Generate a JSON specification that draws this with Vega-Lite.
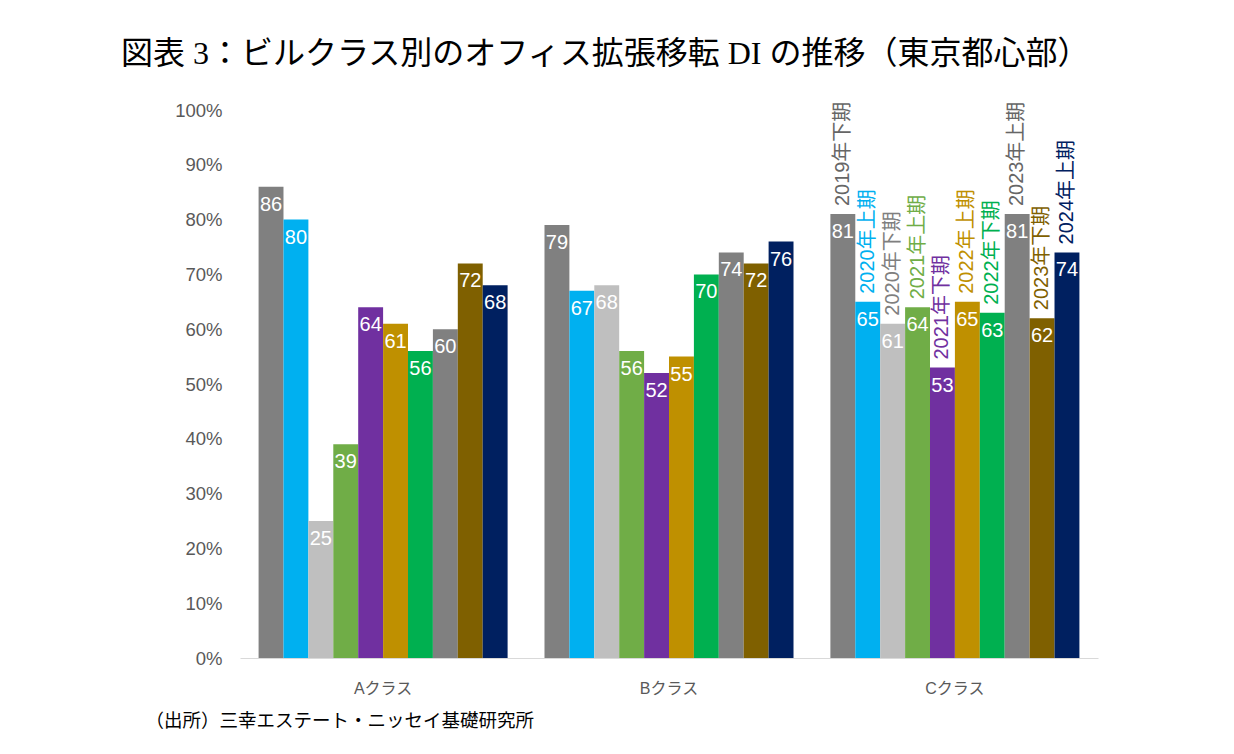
{
  "$schema": "https://vega.github.io/schema/vega-lite/v6.json",
  "width": 858,
  "height": 548,
  "autosize": "none",
  "padding": {"left": 240, "top": 110, "right": 136, "bottom": 96},
  "background": "white",
  "title": {
    "text": "図表 3：ビルクラス別のオフィス拡張移転 DI の推移（東京都心部）",
    "anchor": "start",
    "dx": -24,
    "offset": -2,
    "baseline": "bottom",
    "font": "Liberation Serif, Noto Sans CJK JP",
    "fontSize": 32,
    "fontWeight": "normal",
    "color": "#000000"
  },
  "data": {
    "values": [
      {"cls": "Aクラス", "period": "2019年下期", "value": 86},
      {"cls": "Aクラス", "period": "2020年上期", "value": 80},
      {"cls": "Aクラス", "period": "2020年下期", "value": 25},
      {"cls": "Aクラス", "period": "2021年上期", "value": 39},
      {"cls": "Aクラス", "period": "2021年下期", "value": 64},
      {"cls": "Aクラス", "period": "2022年上期", "value": 61},
      {"cls": "Aクラス", "period": "2022年下期", "value": 56},
      {"cls": "Aクラス", "period": "2023年上期", "value": 60},
      {"cls": "Aクラス", "period": "2023年下期", "value": 72},
      {"cls": "Aクラス", "period": "2024年上期", "value": 68},
      {"cls": "Bクラス", "period": "2019年下期", "value": 79},
      {"cls": "Bクラス", "period": "2020年上期", "value": 67},
      {"cls": "Bクラス", "period": "2020年下期", "value": 68},
      {"cls": "Bクラス", "period": "2021年上期", "value": 56},
      {"cls": "Bクラス", "period": "2021年下期", "value": 52},
      {"cls": "Bクラス", "period": "2022年上期", "value": 55},
      {"cls": "Bクラス", "period": "2022年下期", "value": 70},
      {"cls": "Bクラス", "period": "2023年上期", "value": 74},
      {"cls": "Bクラス", "period": "2023年下期", "value": 72},
      {"cls": "Bクラス", "period": "2024年上期", "value": 76},
      {"cls": "Cクラス", "period": "2019年下期", "value": 81},
      {"cls": "Cクラス", "period": "2020年上期", "value": 65},
      {"cls": "Cクラス", "period": "2020年下期", "value": 61},
      {"cls": "Cクラス", "period": "2021年上期", "value": 64},
      {"cls": "Cクラス", "period": "2021年下期", "value": 53},
      {"cls": "Cクラス", "period": "2022年上期", "value": 65},
      {"cls": "Cクラス", "period": "2022年下期", "value": 63},
      {"cls": "Cクラス", "period": "2023年上期", "value": 81},
      {"cls": "Cクラス", "period": "2023年下期", "value": 62},
      {"cls": "Cクラス", "period": "2024年上期", "value": 74}
    ]
  },
  "encoding": {
    "x": {
      "field": "cls",
      "type": "nominal",
      "scale": {"paddingInner": 0.129, "paddingOuter": 0.065},
      "axis": {
        "title": "（出所）三幸エステート・ニッセイ基礎研究所",
        "titleX": -95,
        "titleY": 62,
        "titleAlign": "left",
        "titleBaseline": "middle",
        "titleFont": "Noto Sans CJK JP",
        "titleFontSize": 18.5,
        "titleFontWeight": "normal",
        "titleColor": "#000000",
        "labelAngle": 0,
        "labelFont": "Liberation Sans, Noto Sans CJK JP",
        "labelFontSize": 16,
        "labelColor": "#595959",
        "labelPadding": 22,
        "ticks": false,
        "domainColor": "#d9d9d9",
        "domainWidth": 1
      }
    },
    "xOffset": {
      "field": "period",
      "type": "nominal",
      "sort": ["2019年下期", "2020年上期", "2020年下期", "2021年上期", "2021年下期", "2022年上期", "2022年下期", "2023年上期", "2023年下期", "2024年上期"],
      "scale": {"paddingInner": 0, "paddingOuter": 0}
    },
    "y": {
      "field": "value",
      "type": "quantitative",
      "scale": {"domain": [0, 100]},
      "axis": {
        "title": null,
        "values": [0, 10, 20, 30, 40, 50, 60, 70, 80, 90, 100],
        "labelExpr": "datum.value + '%'",
        "labelFont": "Liberation Sans",
        "labelFontSize": 18.5,
        "labelColor": "#595959",
        "labelPadding": 18,
        "ticks": false,
        "domain": false,
        "grid": false
      }
    }
  },
  "layer": [
    {
      "mark": {"type": "bar"},
      "encoding": {
        "color": {
          "field": "period",
          "type": "nominal",
          "scale": {
            "domain": ["2019年下期", "2020年上期", "2020年下期", "2021年上期", "2021年下期", "2022年上期", "2022年下期", "2023年上期", "2023年下期", "2024年上期"],
            "range": ["#808080", "#00b0f0", "#bfbfbf", "#70ad47", "#7030a0", "#bf9000", "#00b050", "#808080", "#7f6000", "#002060"]
          },
          "legend": null
        }
      }
    },
    {
      "mark": {
        "type": "text",
        "baseline": "top",
        "dy": 8,
        "color": "white",
        "font": "Liberation Sans",
        "fontSize": 20
      },
      "encoding": {
        "text": {"field": "value", "type": "quantitative"}
      }
    },
    {
      "transform": [{"filter": "datum.cls === 'Cクラス'"}],
      "mark": {
        "type": "text",
        "angle": 270,
        "align": "left",
        "baseline": "middle",
        "dx": 8,
        "font": "Liberation Sans, Noto Sans CJK JP",
        "fontSize": 20
      },
      "encoding": {
        "text": {"field": "period", "type": "nominal"},
        "color": {
          "field": "period",
          "type": "nominal",
          "scale": {
            "domain": ["2019年下期", "2020年上期", "2020年下期", "2021年上期", "2021年下期", "2022年上期", "2022年下期", "2023年上期", "2023年下期", "2024年上期"],
            "range": ["#666666", "#00b0f0", "#7f7f7f", "#70ad47", "#7030a0", "#bf9000", "#00b050", "#666666", "#7f6000", "#002060"]
          },
          "legend": null
        }
      }
    }
  ],
  "resolve": {"scale": {"color": "independent"}},
  "config": {
    "view": {"stroke": null}
  }
}
